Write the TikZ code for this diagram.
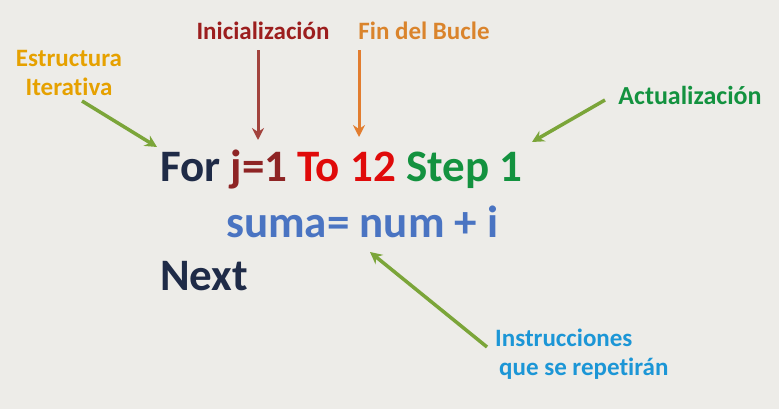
\documentclass[tikz,border=0pt]{standalone}
\usepackage{fontspec}
\setmainfont{Carlito}[RawFeature={-liga}]
\usetikzlibrary{arrows.meta}

\definecolor{fondo}{HTML}{EDECE8}
\definecolor{navy}{HTML}{1F2B47}
\definecolor{vino}{HTML}{8E2424}
\definecolor{rojo}{HTML}{E00A0A}
\definecolor{verde}{HTML}{13923F}
\definecolor{azul}{HTML}{4A74C2}
\definecolor{ambar}{HTML}{E6A100}
\definecolor{granate}{HTML}{9C1E1E}
\definecolor{naranja}{HTML}{DA842C}
\definecolor{celeste}{HTML}{1C96D6}
\definecolor{oliva}{HTML}{7BA539}
\definecolor{flechaini}{HTML}{A2433D}
\definecolor{flechafin}{HTML}{E27D2F}

\tikzset{
	codigo/.style={inner sep=0pt, anchor=base west, font=\bfseries\fontsize{45}{52}\selectfont},
	etiqueta/.style={inner sep=0pt, anchor=base, font=\bfseries\fontsize{25}{29}\selectfont},
	flecha/.style={line width=3.5pt, -{Stealth[length=12pt, width=12pt, inset=4pt]}}
}

\begin{document}
\begin{tikzpicture}[x=1pt, y=-1pt]
		%%%%% START %%%%%
		
		\fill[fondo] (0, 0) rectangle (779, 409);
		\useasboundingbox (0, 0) rectangle (779, 409);
		
		% codigo
		\node[codigo, color=navy] (linfor) at (160, 181) {For \textcolor{vino}{j=1} \textcolor{rojo}{To 12} \textcolor{verde}{Step 1}};
		\node[codigo, color=azul] (linsuma) at (226, 237) {suma= num + i};
		\node[codigo, color=navy] (linnext) at (160, 290) {Next};
		
		% etiquetas
		\node[etiqueta, color=ambar, align=center] (estruc) at (69, 96) {Estructura\\Iterativa};
		\node[etiqueta, color=granate] (inic) at (263, 40) {Inicialización};
		\node[etiqueta, color=naranja] (fin) at (424, 40) {Fin del Bucle};
		\node[etiqueta, color=verde, font=\bfseries\fontsize{26}{29}\selectfont] (actual) at (690, 105) {Actualización};
		\node[etiqueta, color=celeste, align=left, anchor=base west] (instr) at (495, 375) {Instrucciones\\\hspace*{4pt}que se repetirán};
		
		% puntas
		\coordinate (estrucini) at (82, 101);
		\coordinate (estrucfin) at (157, 147);
		\coordinate (inicfin) at (258, 140);
		\coordinate (finfin) at (359, 137);
		\coordinate (actualini) at (605, 100);
		\coordinate (actualfin) at (532, 142);
		\coordinate (instrini) at (487, 347);
		\coordinate (instrfin) at (370, 252);
		
		% flechas
		\draw[flecha, color=oliva] (estrucini) -- (estrucfin);
		\draw[flecha, color=flechaini, line width=3pt, shorten <=10pt] (inic.south -| inicfin) -- (inicfin);
		\draw[flecha, color=flechafin, line width=3pt, shorten <=10pt] (fin.south -| finfin) -- (finfin);
		\draw[flecha, color=oliva] (actualini) -- (actualfin);
		\draw[flecha, color=oliva] (instrini) -- (instrfin);
		
		%%%%% END %%%%%
\end{tikzpicture}
\end{document}
